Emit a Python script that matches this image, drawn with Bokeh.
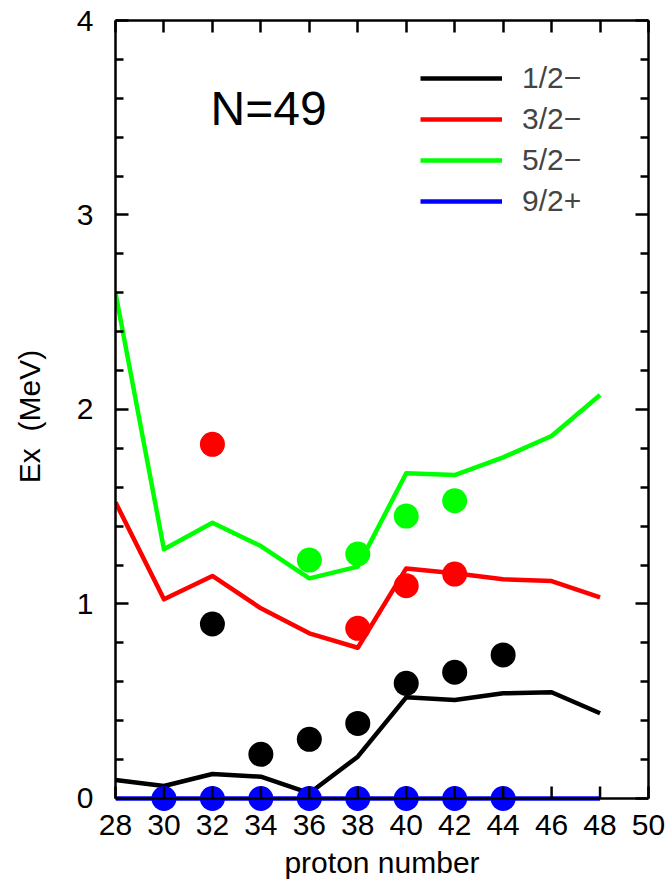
from bokeh.plotting import figure
from bokeh.models import (Range1d, LinearAxis, FixedTicker, Legend, LegendItem,
                          Label, Span, CustomJSTickFormatter)
from bokeh.embed import file_html
from bokeh.resources import INLINE

# ---------------- data ----------------
proton = [28, 30, 32, 34, 36, 38, 40, 42, 44, 46, 48]
calc_1_2 = [0.095, 0.064, 0.126, 0.112, 0.027, 0.215, 0.520, 0.506, 0.541, 0.546, 0.438]
calc_3_2 = [1.523, 1.024, 1.144, 0.978, 0.849, 0.775, 1.183, 1.158, 1.127, 1.118, 1.034]
calc_5_2 = [2.600, 1.281, 1.418, 1.298, 1.132, 1.192, 1.672, 1.663, 1.754, 1.864, 2.075]
calc_9_2 = [0.0, 0.0, 0.0, 0.0, 0.0, 0.0, 0.0, 0.0, 0.0, 0.0, 0.0]

exp_1_2_z = [32, 34, 36, 38, 40, 42, 44]
exp_1_2 = [0.897, 0.227, 0.304, 0.386, 0.592, 0.649, 0.738]
exp_3_2_z = [32, 38, 40, 42]
exp_3_2 = [1.821, 0.875, 1.094, 1.154]
exp_5_2_z = [36, 38, 40, 42]
exp_5_2 = [1.226, 1.257, 1.452, 1.531]
exp_9_2_z = [30, 32, 34, 36, 38, 40, 42, 44]
exp_9_2 = [0.0, 0.0, 0.0, 0.0, 0.0, 0.0, 0.0, 0.0]

x_ticks = [28, 30, 32, 34, 36, 38, 40, 42, 44, 46, 48, 50]
y_ticks = [0, 1, 2, 3, 4]
labels = ["1/2\u2212", "3/2\u2212", "5/2\u2212", "9/2+"]
colors = ["#000000", "#ff0000", "#00ff00", "#0000ff"]

FONT = "Liberation Sans"

p = figure(frame_width=533, frame_height=792,
           x_range=Range1d(28, 50), y_range=Range1d(-0.072, 4),
           output_backend="svg", toolbar_location=None,
           min_border_left=115, min_border_right=23,
           min_border_top=20, min_border_bottom=78)
p.grid.visible = False
p.outline_line_color = None
p.background_fill_color = "white"
p.border_fill_color = "white"

minor_y = [i * 0.2 for i in range(21) if i % 5 != 0]
y_ticker = FixedTicker(ticks=y_ticks, minor_ticks=minor_y)
x_ticker = FixedTicker(ticks=x_ticks)
empty = CustomJSTickFormatter(code="return ''")


def style(ax):
    ax.axis_line_width = 2.5
    ax.axis_line_color = "black"
    ax.major_tick_line_width = 2.5
    ax.minor_tick_line_width = 2.5
    ax.major_tick_out = 0
    ax.minor_tick_out = 0
    ax.major_label_text_font = FONT
    ax.major_label_text_font_size = "30px"
    ax.major_label_text_color = "black"
    ax.axis_label_text_font = FONT
    ax.axis_label_text_font_size = "30px"
    ax.axis_label_text_font_style = "normal"
    ax.axis_label_text_color = "black"


# bottom axis: labels only (the axis line / ticks are drawn at y = 0 below)
xa = p.xaxis[0]
style(xa)
xa.ticker = x_ticker
xa.axis_line_color = None
xa.major_tick_in = 0
xa.minor_tick_in = 0
xa.major_tick_line_color = None
xa.minor_tick_line_color = None
xa.major_label_standoff = 2
xa.axis_label = "proton number"
xa.axis_label_standoff = 8

ya = p.yaxis[0]
style(ya)
ya.bounds = (0, 4)
ya.ticker = y_ticker
ya.major_tick_in = 13
ya.minor_tick_in = 8
ya.major_label_standoff = 22
ya.axis_label = "Ex \u00a0(MeV)"
ya.axis_label_standoff = 28

ra = LinearAxis(ticker=y_ticker, formatter=empty, bounds=(0, 4))
style(ra)
ra.major_tick_in = 13
ra.minor_tick_in = 8
p.add_layout(ra, "right")

ta = LinearAxis(ticker=x_ticker, formatter=empty)
style(ta)
ta.major_tick_in = 12
ta.minor_tick_in = 0
p.add_layout(ta, "above")

# theory lines
series = [calc_1_2, calc_3_2, calc_5_2, calc_9_2]
line_renderers = []
for ys, c in zip(series, colors):
    r = p.line(proton, ys, line_color=c, line_width=4.5, line_join="round")
    line_renderers.append(r)

# experimental points
for xs, ys, c in [(exp_9_2_z, exp_9_2, colors[3]), (exp_1_2_z, exp_1_2, colors[0]),
                  (exp_3_2_z, exp_3_2, colors[1]), (exp_5_2_z, exp_5_2, colors[2])]:
    p.scatter(xs, ys, size=25, fill_color=c, line_color=c, line_width=0)

# bottom frame line at Ex = 0 with inward ticks
p.add_layout(Span(location=0, dimension="width", line_color="black", line_width=2.5))
p.ray(x=x_ticks, y=[0] * len(x_ticks), length=12, length_units="screen",
      angle=90, angle_units="deg", line_color="black", line_width=2.5, level="overlay")

legend = Legend(items=[LegendItem(label=l, renderers=[r]) for l, r in zip(labels, line_renderers)],
                location=(305, 594), orientation="vertical",
                glyph_width=82, glyph_height=32, label_height=32, spacing=7,
                label_standoff=20, padding=0, margin=0,
                label_text_font=FONT, label_text_font_size="30px",
                border_line_color=None, background_fill_alpha=0)
p.add_layout(legend)

p.add_layout(Label(x=34.32, y=3.548, text="N=49", text_align="center",
                   text_baseline="middle", text_font=FONT, text_font_size="48px",
                   text_color="black"))

open("out.html", "w").write(file_html(p, INLINE))
